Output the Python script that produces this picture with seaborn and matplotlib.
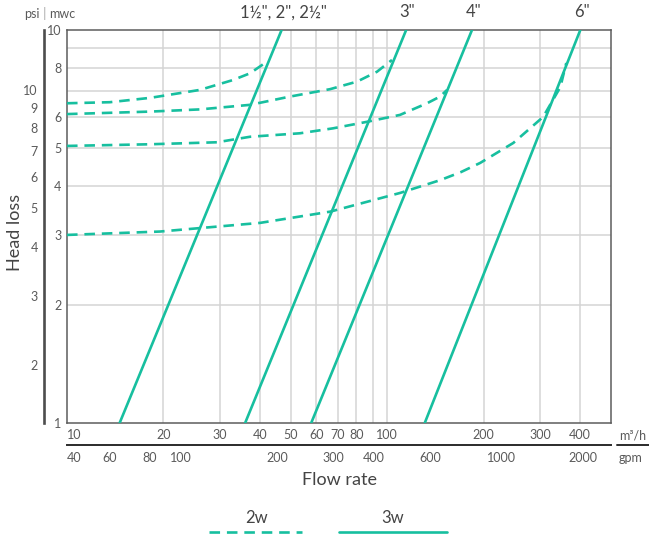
import numpy as np
import pandas as pd
import seaborn as sns
import matplotlib.pyplot as plt
import matplotlib.transforms as mtransforms
from matplotlib.lines import Line2D
from matplotlib.ticker import FixedLocator, NullLocator, NullFormatter

GPM_PER_M3H = 4.403
PSI_PER_MWC = 1.4223

# 3w lines: flow (m3/h) where the head loss is 1 and 10 mwc
size_labels = ['1½", 2", 2½"', '3"', '4"', '6"']
flow_3w_low = [14.6, 36.0, 57.9, 131.0]
flow_3w_high = [46.8, 114.6, 184.0, 401.0]
head_3w = [1, 10]

# 2w curves (flow m3/h, head loss mwc)
flow_2w_a = [10, 13.6, 18.2, 26.0, 33.0, 37.3, 42.4]
head_2w_a = [6.51, 6.55, 6.72, 7.04, 7.46, 7.76, 8.34]
flow_2w_b = [10, 18.2, 26.0, 37.3, 49.7, 66.3, 80.5, 92.9, 103.5]
head_2w_b = [6.11, 6.20, 6.28, 6.45, 6.77, 7.07, 7.39, 7.83, 8.39]
flow_2w_c = [10, 18.2, 29.4, 37.3, 53.4, 67.7, 86.5, 109.6, 133.2, 146.2, 153.8]
head_2w_c = [5.07, 5.12, 5.18, 5.35, 5.46, 5.62, 5.84, 6.08, 6.51, 6.77, 7.04]
flow_2w_d = [10, 19.5, 40.1, 66.4, 109.8, 146.5, 170.0, 195.2, 247.7, 307.0, 347.4, 362.5]
head_2w_d = [3.01, 3.07, 3.23, 3.45, 3.85, 4.15, 4.35, 4.59, 5.16, 6.01, 7.16, 8.24]

flow_ticks = [10, 20, 30, 40, 50, 60, 70, 80, 100, 200, 300, 400]
flow_grid = [20, 30, 40, 50, 60, 70, 80, 90, 100, 200, 300, 400]
gpm_ticks = [60, 80, 100, 200, 300, 400, 600, 1000, 2000]
mwc_ticks = [1, 2, 3, 4, 5, 6, 8, 10]
mwc_grid = [2, 3, 4, 5, 6, 7, 8, 9]
psi_ticks = [2, 3, 4, 5, 6, 7, 8, 9, 10]

TEAL = '#17bf9f'
TXT = '#5a5a5a'
DARK = '#444444'
GRID = '#d4d4d4'
FS = 9

sns.set_theme(style='white')
plt.rcParams['font.family'] = ['Lato', 'DejaVu Sans']

df_2w = pd.concat([
    pd.DataFrame({'curve': name, 'flow': f, 'head': h})
    for name, f, h in [('a', flow_2w_a, head_2w_a), ('b', flow_2w_b, head_2w_b),
                       ('c', flow_2w_c, head_2w_c), ('d', flow_2w_d, head_2w_d)]
])
df_3w = pd.concat([
    pd.DataFrame({'size': lab, 'flow': [lo, hi], 'head': head_3w})
    for lab, lo, hi in zip(size_labels, flow_3w_low, flow_3w_high)
])

fig = plt.figure(figsize=(6.49, 5.37), dpi=100)
ax = fig.add_axes([67 / 649, 1 - 423 / 537, 544 / 649, 393 / 537])
ax.set_xscale('log')
ax.set_yscale('log')
ax.set_xlim(10, 500)
ax.set_ylim(1, 10)

sns.lineplot(data=df_2w, x='flow', y='head', units='curve', estimator=None, sort=False,
             color=TEAL, lw=1.9, linestyle=(0, (4, 2.6)), ax=ax, zorder=3)
sns.lineplot(data=df_3w, x='flow', y='head', units='size', estimator=None, sort=False,
             color=TEAL, lw=1.9, ax=ax, zorder=3)

# ticks and grid (grid on minor ticks, labels on major ticks)
ax.xaxis.remove_overlapping_locs = False
ax.yaxis.remove_overlapping_locs = False
ax.xaxis.set_major_locator(FixedLocator(flow_ticks))
ax.set_xticklabels([str(t) for t in flow_ticks])
ax.xaxis.set_minor_locator(FixedLocator(flow_grid))
ax.xaxis.set_minor_formatter(NullFormatter())
ax.yaxis.set_major_locator(FixedLocator(mwc_ticks))
ax.set_yticklabels([str(t) for t in mwc_ticks])
ax.yaxis.set_minor_locator(FixedLocator(mwc_grid))
ax.yaxis.set_minor_formatter(NullFormatter())
ax.grid(False, which='major')
ax.grid(True, which='minor', color=GRID, lw=1.1)
ax.set_axisbelow(True)
ax.tick_params(which='both', length=0, labelsize=FS, labelcolor=TXT)
ax.tick_params(axis='x', pad=4)
ax.tick_params(axis='y', pad=4)
ax.get_xticklabels()[0].set_ha('left')
ax.set_xlabel('')
ax.set_ylabel('')
for s in ax.spines.values():
    s.set_visible(True)
    s.set_color('#5c5c5c')
    s.set_linewidth(1.1)

# psi axis on the far left
ax_psi = ax.twinx()
ax_psi.set_yscale('log')
ax_psi.set_ylim(1 * PSI_PER_MWC, 10 * PSI_PER_MWC)
ax_psi.yaxis.set_major_locator(FixedLocator(psi_ticks))
ax_psi.set_yticklabels([str(t) for t in psi_ticks])
ax_psi.yaxis.set_minor_locator(NullLocator())
ax_psi.yaxis.set_ticks_position('left')
ax_psi.spines['left'].set_position(('outward', 16.5))
for k in ['right', 'top', 'bottom']:
    ax_psi.spines[k].set_visible(False)
ax_psi.spines['left'].set_visible(True)
ax_psi.spines['left'].set_color('#4d4d4d')
ax_psi.spines['left'].set_linewidth(1.9)
ax_psi.tick_params(which='both', length=0, labelsize=FS, labelcolor=TXT, pad=4.5)
ax_psi.grid(False)

# gpm axis below
sec = ax.secondary_xaxis(-22 / 393, functions=(lambda q: q * GPM_PER_M3H,
                                                lambda g: g / GPM_PER_M3H))
sec.set_xticks(gpm_ticks)
sec.set_xticklabels([str(g) for g in gpm_ticks])
sec.xaxis.set_minor_locator(NullLocator())
sec.spines['bottom'].set_color('#2b2b2b')
sec.spines['bottom'].set_linewidth(1.4)
sec.tick_params(which='both', length=0, labelsize=FS, labelcolor=TXT, pad=5)
sec.get_xticklabels()[-1].set_ha('right')
tr = mtransforms.blended_transform_factory(ax.transAxes, fig.transFigure)
ax.text(0, 1 - 458 / 537, '40', transform=tr, ha='left', va='center', fontsize=FS, color=TXT)

# size labels on top of each 3w line
for lab, hi in zip(size_labels, flow_3w_high):
    ax.annotate(lab, xy=(hi, 10), xytext=(1, 7), textcoords='offset points',
                ha='center', va='bottom', fontsize=12, color=DARK, annotation_clip=False)

# axis titles and units
fig.text(40 / 649, 1 - 14 / 537, 'psi', ha='right', va='center', fontsize=FS, color=TXT)
fig.text(44.5 / 649, 1 - 14 / 537, '|', ha='center', va='center', fontsize=10, color='#b0b0b0')
fig.text(49 / 649, 1 - 14 / 537, 'mwc', ha='left', va='center', fontsize=FS, color=TXT)
fig.text(15 / 649, 1 - 232 / 537, 'Head loss', rotation=90, ha='center', va='center',
         fontsize=13, color=DARK)
fig.text(339 / 649, 1 - 480 / 537, 'Flow rate', ha='center', va='center',
         fontsize=13, color=DARK)
fig.text(619 / 649, 1 - 436 / 537, 'm³/h', ha='left', va='center', fontsize=FS, color=TXT)
fig.add_artist(Line2D([617 / 649, 1.0], [1 - 445 / 537] * 2, transform=fig.transFigure,
                      color='#2b2b2b', lw=1.4))
fig.text(619 / 649, 1 - 458 / 537, 'gpm', ha='left', va='center', fontsize=FS, color=TXT)

# legend
fig.text(256 / 649, 1 - 518 / 537, '2w', ha='center', va='center', fontsize=12, color=DARK)
fig.text(393 / 649, 1 - 518 / 537, '3w', ha='center', va='center', fontsize=12, color=DARK)
fig.add_artist(Line2D([209 / 649, 302 / 649], [1 - 531.5 / 537] * 2, transform=fig.transFigure,
                      color=TEAL, lw=1.9, linestyle=(0, (4, 2.6))))
fig.add_artist(Line2D([339 / 649, 447 / 649], [1 - 531.5 / 537] * 2, transform=fig.transFigure,
                      color=TEAL, lw=1.9))

fig.savefig('out.png', dpi=100)
